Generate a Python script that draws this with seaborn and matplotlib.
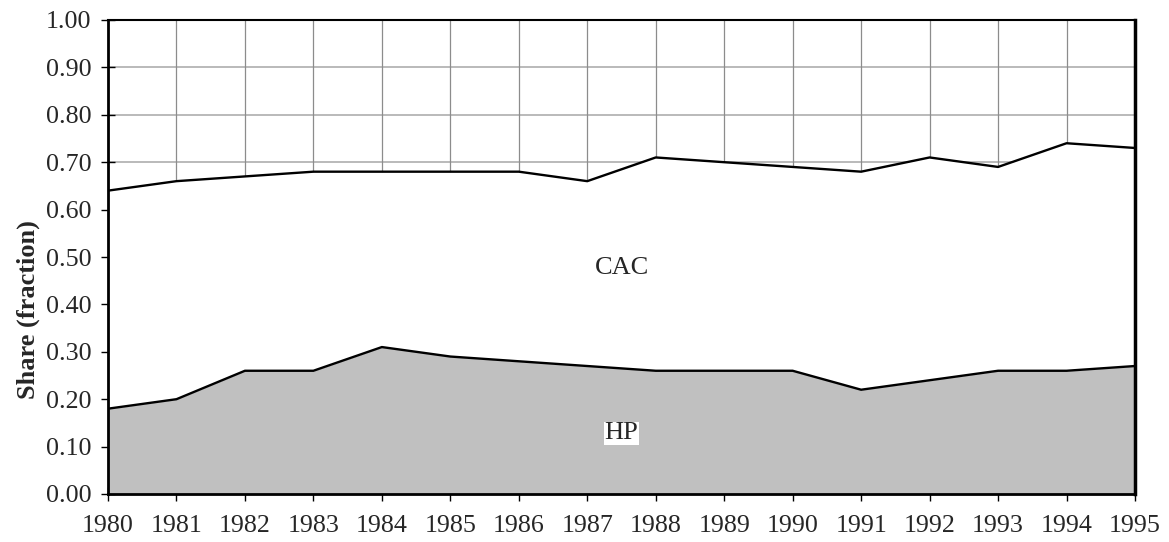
import numpy as np
import pandas as pd
import matplotlib
matplotlib.use("Agg")
import matplotlib.pyplot as plt
import seaborn as sns

years = list(range(1980, 1996))
hp = [0.18, 0.20, 0.26, 0.26, 0.31, 0.29, 0.28, 0.27, 0.26, 0.26, 0.26, 0.22, 0.24, 0.26, 0.26, 0.27]
cac = [0.46, 0.46, 0.41, 0.42, 0.37, 0.39, 0.40, 0.39, 0.45, 0.44, 0.43, 0.46, 0.47, 0.43, 0.48, 0.46]
y_ticks = [0.0, 0.1, 0.2, 0.3, 0.4, 0.5, 0.6, 0.7, 0.8, 0.9, 1.0]

df = pd.DataFrame({"Year": years, "HP": hp, "CAC": cac})
df["Total"] = df["HP"] + df["CAC"]

sns.set_style("white")
plt.rcParams["font.family"] = ["Liberation Serif", "DejaVu Serif"]

fig = plt.figure(figsize=(11.69, 5.42), dpi=100)
ax = fig.add_axes([108 / 1169, 48 / 542, 1027 / 1169, 474 / 542])

# grid sits underneath the stacked areas
for y in y_ticks[1:-1]:
    ax.axhline(y, color="#b4b4b4", lw=1.3, zorder=0)
for x in years[1:-1]:
    ax.axvline(x, color="#8c8c8c", lw=0.9, zorder=0)

ax.fill_between(df["Year"], 0, df["HP"], color="#c0c0c0", lw=0, zorder=1)
ax.fill_between(df["Year"], df["HP"], df["Total"], color="white", lw=0, zorder=1)
sns.lineplot(data=df, x="Year", y="HP", color="black", lw=1.7, ax=ax, zorder=2)
sns.lineplot(data=df, x="Year", y="Total", color="black", lw=1.7, ax=ax, zorder=2)

ax.text(1987.5, 0.477, "CAC", fontsize=19, ha="center", va="center", zorder=3)
ax.text(1987.5, 0.128, "HP", fontsize=19, ha="center", va="center", zorder=3,
        bbox=dict(facecolor="white", edgecolor="none", pad=0.5))

ax.set_xlim(1980, 1995)
ax.set_ylim(0, 1.0)
ax.set_xticks(years)
ax.set_yticks(y_ticks)
ax.set_yticklabels([f"{v:.2f}" for v in y_ticks])
ax.tick_params(axis="both", direction="inout", length=10, width=1, labelsize=18.7, color="black",
               left=True, bottom=True)
ax.tick_params(axis="x", pad=10)
ax.tick_params(axis="y", pad=7)
ax.set_xlabel("")
ax.set_ylabel("Share (fraction)", fontsize=19, fontweight="bold")
ax.yaxis.set_label_coords(-0.066, 0.39)

for side in ["top"]:
    ax.spines[side].set_color("black")
    ax.spines[side].set_linewidth(1.5)
for side in ["left", "bottom"]:
    ax.spines[side].set_color("black")
    ax.spines[side].set_linewidth(2)
ax.spines["right"].set_color("black")
ax.spines["right"].set_linewidth(2.5)

fig.savefig("out.png", dpi=100)
